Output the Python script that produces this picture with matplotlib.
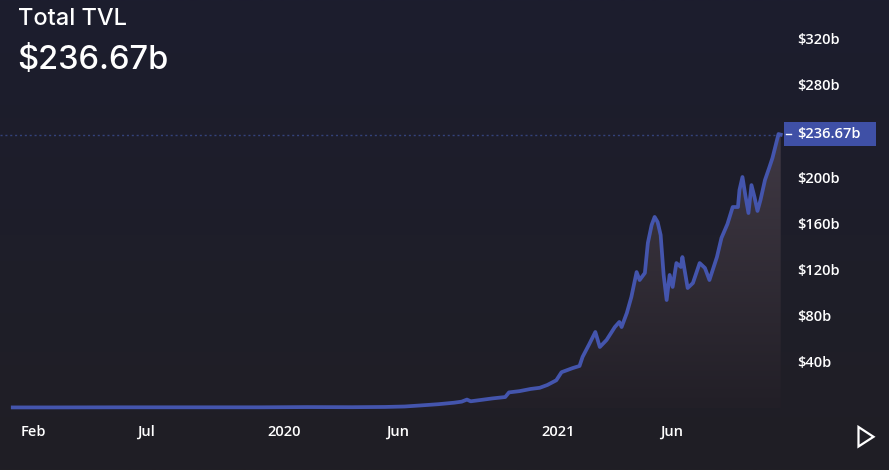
import numpy as np
import pandas as pd
import matplotlib
matplotlib.use('Agg')
import matplotlib.pyplot as plt
import matplotlib.dates as mdates
from matplotlib.colors import LinearSegmentedColormap
from matplotlib.patches import Polygon

plt.rcParams['font.family'] = ['Open Sans', 'DejaVu Sans']

# ---- data (billions USD) ----
dates = ['2019-01-05', '2019-03-01', '2019-06-01', '2019-09-01', '2019-12-01',
         '2020-02-01', '2020-04-01', '2020-05-15', '2020-06-10', '2020-07-01',
         '2020-07-25', '2020-08-15', '2020-08-25', '2020-09-01', '2020-09-06',
         '2020-09-20', '2020-10-05', '2020-10-22', '2020-10-27', '2020-11-10',
         '2020-11-25', '2020-12-07', '2020-12-17', '2020-12-29',
         '2021-01-05', '2021-01-20', '2021-01-29', '2021-02-02', '2021-02-11',
         '2021-02-19', '2021-02-25', '2021-03-06', '2021-03-17', '2021-03-23',
         '2021-03-26', '2021-04-02', '2021-04-08', '2021-04-15', '2021-04-19',
         '2021-04-26', '2021-04-30', '2021-05-05', '2021-05-09', '2021-05-13',
         '2021-05-17', '2021-05-21', '2021-05-25', '2021-05-29', '2021-06-02',
         '2021-06-07', '2021-06-13', '2021-06-15', '2021-06-22', '2021-06-29',
         '2021-07-08', '2021-07-15', '2021-07-21', '2021-07-31', '2021-08-06',
         '2021-08-14', '2021-08-21', '2021-08-28', '2021-08-30', '2021-09-03',
         '2021-09-07', '2021-09-11', '2021-09-15', '2021-09-19', '2021-09-23',
         '2021-09-27', '2021-10-03', '2021-10-09', '2021-10-13', '2021-10-17',
         '2021-10-21', '2021-10-24']
tvl = [0.5, 0.5, 0.6, 0.6, 0.6,
       0.8, 0.7, 0.9, 1.3, 2.2,
       3.3, 4.6, 5.5, 7.3, 5.8,
       7.0, 8.3, 9.5, 13.5, 14.6,
       16.5, 17.5, 19.9, 24.0,
       31.0, 34.6, 36.4, 44.2, 55.4,
       65.8, 52.8, 58.9, 70.1, 74.5,
       70.1, 82.3, 96.1, 117.7, 110.8,
       116.9, 142.9, 158.4, 165.4, 161.0,
       149.8, 115.2, 93.5, 115.2, 104.8,
       125.5, 122.1, 130.7, 103.9, 108.2,
       125.5, 121.2, 110.8, 130.7, 147.2,
       159.3, 174.0, 174.0, 188.7, 200.0,
       183.5, 168.8, 193.0, 182.7, 170.6,
       180.0, 197.4, 208.7, 216.5, 226.8,
       237.2, 236.67]
current = 236.67

ytick_vals = [40, 80, 120, 160, 200, 280, 320]
ytick_labels = ['$40b', '$80b', '$120b', '$160b', '$200b', '$280b', '$320b']
xtick_dates = ['2019-02-01', '2019-07-01', '2020-01-01', '2020-06-01', '2021-01-01', '2021-06-01']
xtick_labels = ['Feb', 'Jul', '2020', 'Jun', '2021', 'Jun']

df = pd.DataFrame({'date': pd.to_datetime(dates), 'tvl': tvl})

# ---- figure ----
W, H = 889, 470
fig = plt.figure(figsize=(W / 100, H / 100), dpi=100)

# background gradient
bg = fig.add_axes([0, 0, 1, 1], zorder=-10)
bg_cmap = LinearSegmentedColormap.from_list('bg', ['#1c1d2e', '#201f25'])
bg.imshow(np.linspace(0, 1, 256).reshape(-1, 1), cmap=bg_cmap, aspect='auto',
          extent=[0, 1, 0, 1])
bg.set_axis_off()

ax_right = 783 / W
ax_bottom = (H - 410) / H
ax = fig.add_axes([0, ax_bottom, ax_right, 1 - ax_bottom])
ax.set_facecolor('none')

px_per_40 = 46.2
ylo = -(410 - 408) / px_per_40 * 40
yhi = 408 / px_per_40 * 40
xlo, xhi = pd.Timestamp('2018-12-19'), pd.Timestamp('2021-10-27')

x = mdates.date2num(df['date'])
y = df['tvl'].values

# gradient fill under curve
poly = ax.fill_between(x, y, 0, color='none')
verts = poly.get_paths()[0].vertices
clip = Polygon(verts, closed=True, transform=ax.transData, facecolor='none', edgecolor='none')
ax.add_patch(clip)
fill_cmap = LinearSegmentedColormap.from_list('fill', ['#221f27', '#403944'])
im = ax.imshow(np.linspace(0, 1, 256).reshape(-1, 1), cmap=fill_cmap, origin='lower',
               aspect='auto', extent=[x[0], x[-1], 0, current], zorder=1)
im.set_clip_path(clip)
ax.set_xlim(xlo, xhi)
ax.set_ylim(ylo, yhi)

ax.plot(x, y, color='#4455ad', lw=2.7, solid_joinstyle='round', zorder=3)
ax.axhline(current, color='#34427a', lw=1, ls=(0, (1.5, 2)), zorder=2)

for s in ax.spines.values():
    s.set_visible(False)

ax.yaxis.tick_right()
ax.set_yticks(ytick_vals)
ax.set_yticklabels(ytick_labels)
ax.tick_params(axis='y', length=0, pad=10, labelsize=10.5, labelcolor='white')
for t in ax.get_yticklabels():
    t.set_fontweight('semibold')

ax.set_xticks(mdates.date2num(pd.to_datetime(xtick_dates)))
ax.set_xticklabels(xtick_labels)
ax.tick_params(axis='x', length=0, pad=16, labelsize=10.5, labelcolor='white')
for t in ax.get_xticklabels():
    t.set_fontweight('semibold')
    t.set_va('center')

# current value tag
tag_y = 1 - 134 / H
fig.patches.append(plt.Rectangle((784 / W, 1 - 146.5 / H), 92 / W, 24.5 / H,
                                 transform=fig.transFigure, facecolor='#3f50a6',
                                 edgecolor='none', zorder=5))
fig.lines.append(plt.Line2D([786 / W, 791 / W], [tag_y, tag_y], transform=fig.transFigure,
                            color='white', lw=1, zorder=6))
fig.text(797 / W, tag_y, '$236.67b', color='white', fontsize=10.5, fontweight='semibold',
         va='center', ha='left', zorder=7)

# titles
fig.text(18 / W, 1 - 19 / H, 'Total TVL', color='white', fontsize=17, fontweight='medium',
         family=['Inter', 'DejaVu Sans'], va='center', ha='left')
fig.text(17 / W, 1 - 60 / H, '$236.67b', color='white', fontsize=23.5, fontweight='medium',
         family=['Inter', 'DejaVu Sans'], va='center', ha='left')

# play triangle
tri = Polygon([(858.5 / W, 1 - 427 / H), (858.5 / W, 1 - 446.5 / H), (873.5 / W, 1 - 436.8 / H)],
              closed=True, transform=fig.transFigure, facecolor='none',
              edgecolor='white', lw=1.6, joinstyle='miter')
fig.patches.append(tri)

fig.savefig('out.png', dpi=100, facecolor='#1e1e2a')
